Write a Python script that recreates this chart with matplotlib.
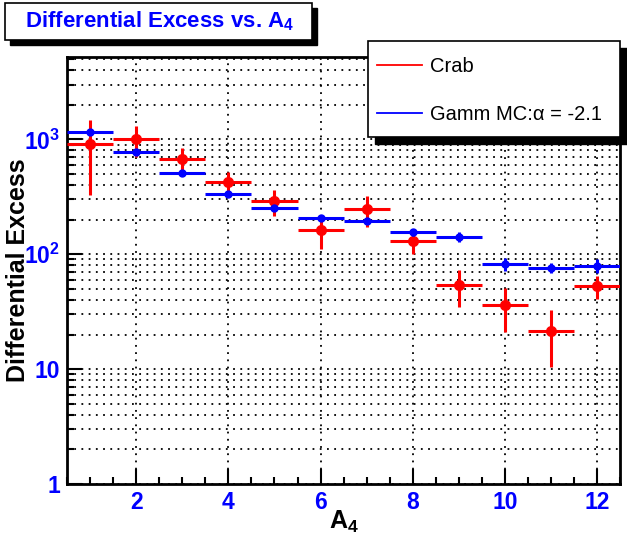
import matplotlib
matplotlib.use('Agg')
import matplotlib.pyplot as plt
from matplotlib.patches import Rectangle
from matplotlib.lines import Line2D
from matplotlib.ticker import FixedLocator, FixedFormatter, NullFormatter

plt.rcParams['font.family'] = ['Liberation Sans', 'DejaVu Sans']
plt.rcParams['mathtext.fontset'] = 'custom'
plt.rcParams['mathtext.rm'] = 'Liberation Sans'
plt.rcParams['mathtext.bf'] = 'Liberation Sans:bold'
plt.rcParams['mathtext.it'] = 'Liberation Sans:italic'

# values
a4 = [1, 2, 3, 4, 5, 6, 7, 8, 9, 10, 11, 12]
crab = [905, 1000, 680, 423, 289, 162, 246, 130, 54, 36, 21.4, 53]
crab_err = [580, 300, 160, 100, 75, 52, 73, 29, 19, 15, 11, 12]
gamma_mc = [1170, 771, 506, 333, 251, 206, 194, 155, 141, 82, 76, 79]
gamma_err = [35, 25, 18, 14, 15, 10, 12, 10, 14, 11, 8, 11]
bin_half = 0.5

fig = plt.figure(figsize=(6.27, 5.37), dpi=100)
ax = fig.add_axes([0.107, 0.0987, 0.882, 0.795])

blue = '#0000ff'
red = '#ff0000'

ax.errorbar(a4, crab, xerr=bin_half, yerr=crab_err, fmt='o', color=red,
            ms=7, lw=2.2, capsize=0, zorder=3)
ax.errorbar(a4, gamma_mc, xerr=bin_half, yerr=gamma_err, fmt='o', color=blue,
            ms=5, lw=2.2, capsize=0, zorder=4)

ax.set_yscale('log')
ax.set_xlim(0.5, 12.5)
ax.set_ylim(1, 5200)

# axis ticks, ROOT-like
ax.xaxis.set_major_locator(FixedLocator([2, 4, 6, 8, 10, 12]))
ax.xaxis.set_minor_locator(FixedLocator([x / 2 for x in range(1, 26)]))
ax.yaxis.set_major_locator(FixedLocator([1, 10, 100, 1000]))
ax.yaxis.set_major_formatter(FixedFormatter(['1', '10', r'$\mathbf{10^{2}}$', r'$\mathbf{10^{3}}$']))
minors = [m * 10 ** d for d in range(0, 4) for m in range(2, 10)]
ax.yaxis.set_minor_locator(FixedLocator(minors))
ax.yaxis.set_minor_formatter(NullFormatter())

ax.tick_params(which='both', direction='in', top=False, right=False,
               labelcolor=blue, labelsize=16.5, width=1.5)
ax.tick_params(which='major', length=11)
ax.tick_params(which='minor', length=5)
for lab in ax.get_xticklabels() + ax.get_yticklabels():
    lab.set_fontweight('bold')
ax.tick_params(axis='x', pad=5)
ax.tick_params(axis='y', pad=5)

ax.grid(True, which='major', axis='x', color='black', lw=1.3, ls=(0, (1, 3)))
ax.grid(True, which='both', axis='y', color='black', lw=1.3, ls=(0, (1, 3)))
ax.set_axisbelow(True)

for s in ax.spines.values():
    s.set_linewidth(2)

ax.set_xlabel(r'$\mathbf{A_{4}}$', fontsize=18, labelpad=-4, color='black')
ax.set_ylabel('Differential Excess', fontsize=18, fontweight='bold', va='center')
ax.yaxis.set_label_coords(-0.088, 0.5)

# title box with shadow
fig.add_artist(Rectangle((10 / 627, 1 - 45 / 537), 307 / 627, 37 / 537,
                         transform=fig.transFigure, facecolor='black', edgecolor='black', zorder=5))
fig.add_artist(Rectangle((5 / 627, 1 - 40 / 537), 307 / 627, 37 / 537,
                         transform=fig.transFigure, facecolor='white', edgecolor='black', lw=1.2, zorder=6))
fig.text(160 / 627, 1 - 21 / 537, r'Differential Excess vs. $\mathbf{A_{4}}$', color=blue,
         fontsize=16, fontweight='bold', ha='center', va='center', zorder=7)

# legend box with shadow
fig.add_artist(Rectangle((375 / 627, 1 - 144 / 537), 260 / 627, 96 / 537,
                         transform=fig.transFigure, facecolor='black', edgecolor='black', zorder=5))
fig.add_artist(Rectangle((368 / 627, 1 - 137 / 537), 252 / 627, 96 / 537,
                         transform=fig.transFigure, facecolor='white', edgecolor='black', lw=1.2, zorder=6))
fig.add_artist(Line2D([377 / 627, 422 / 627], [1 - 65 / 537] * 2, transform=fig.transFigure,
                      color=red, lw=1.3, zorder=7))
fig.add_artist(Line2D([377 / 627, 422 / 627], [1 - 113 / 537] * 2, transform=fig.transFigure,
                      color=blue, lw=1.3, zorder=7))
fig.text(430 / 627, 1 - 66 / 537, 'Crab', fontsize=14.5, ha='left', va='center', zorder=7)
fig.text(430 / 627, 1 - 114 / 537, 'Gamm MC:\u03b1 = -2.1', fontsize=14.5, ha='left', va='center', zorder=7)

fig.savefig('out.png', dpi=100)
